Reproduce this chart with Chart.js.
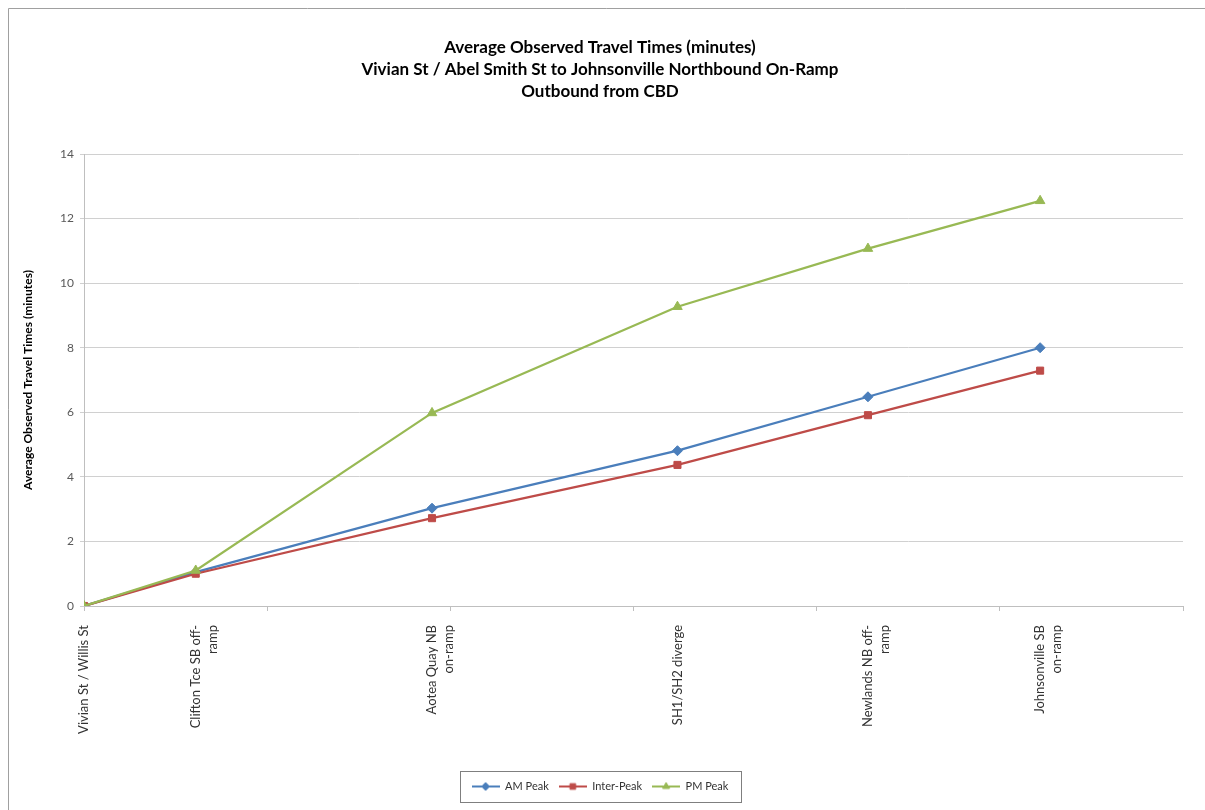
<!DOCTYPE html>
<html>
<head>
<meta charset="utf-8">
<title>Average Observed Travel Times</title>
<script src="https://cdn.jsdelivr.net/npm/chart.js@4.4.1/dist/chart.umd.min.js"></script>
<style>
  html, body { margin: 0; padding: 0; background: #ffffff; }
  #wrap { position: relative; width: 1205px; height: 810px; }
</style>
</head>
<body>
<div id="wrap"><canvas id="chart"></canvas></div>
<script>
// Timing points along the route (tick labels, split into lines)
const stationLabels = [
  ['Vivian St / Willis St'],
  ['Clifton Tce SB off-', 'ramp'],
  ['Aotea Quay NB', 'on-ramp'],
  ['SH1/SH2 diverge'],
  ['Newlands NB off-', 'ramp'],
  ['Johnsonville SB', 'on-ramp']
];
// Distance of each timing point along the route
const stationDistance = [0, 0.61, 1.9, 3.24, 4.28, 5.22];

// Cumulative average travel time (minutes) per period
const amPeak    = [0, 1.05, 3.03, 4.81, 6.48, 8.0];
const interPeak = [0, 1.0, 2.72, 4.37, 5.91, 7.29];
const pmPeak    = [0, 1.1, 5.98, 9.27, 11.07, 12.55];

const seriesNames = ['AM Peak', 'Inter-Peak', 'PM Peak'];
const yTickMax = 14;
const yTickStep = 2;
const xAxisMax = 6;

const colors = { am: '#4a7ebb', inter: '#be4b48', pm: '#98b954' };
const FONT = 'Lato, "Open Sans", "Liberation Sans", sans-serif';

function toPoints(values) {
  return values.map((v, i) => ({ x: stationDistance[i], y: v }));
}

// Legend swatch: short line with the series marker in the middle
function legendIcon(color, style, radius) {
  const c = document.createElement('canvas');
  c.width = 28; c.height = 12;
  const g = c.getContext('2d');
  g.strokeStyle = color;
  g.lineWidth = 2;
  g.beginPath(); g.moveTo(0, 6); g.lineTo(28, 6); g.stroke();
  g.fillStyle = color;
  g.lineWidth = 1;
  Chart.helpers.drawPoint(g, { pointStyle: style, radius: radius, borderWidth: 1, rotation: 0 }, 14, 6);
  return c;
}

const frame = {
  id: 'frame',
  beforeDraw(chart) {
    const ctx = chart.ctx;
    ctx.save();
    ctx.fillStyle = '#ffffff';
    ctx.fillRect(0, 0, chart.width, chart.height);
    ctx.restore();
  },
  afterDraw(chart) {
    const ctx = chart.ctx;
    ctx.save();
    // outer chart border (top and left edges)
    ctx.strokeStyle = '#a0a0a0';
    ctx.lineWidth = 1;
    ctx.beginPath();
    ctx.moveTo(8.5, chart.height);
    ctx.lineTo(8.5, 8.5);
    ctx.lineTo(chart.width, 8.5);
    ctx.stroke();
    // legend border
    const lg = chart.legend;
    if (lg && lg.legendHitBoxes && lg.legendHitBoxes.length) {
      const boxes = lg.legendHitBoxes;
      const left = Math.min(...boxes.map(b => b.left)) - 12;
      const right = Math.max(...boxes.map(b => b.left + b.width)) + 12;
      const top = lg.top;
      const bottom = lg.bottom;
      ctx.strokeStyle = '#7f7f7f';
      ctx.strokeRect(Math.round(left) + 0.5, Math.round(top) + 0.5, Math.round(right - left), Math.round(bottom - top));
    }
    ctx.restore();
  }
};

const datasets = [
  {
    label: seriesNames[0], data: toPoints(amPeak), order: 3,
    borderColor: colors.am, backgroundColor: colors.am, borderWidth: 2.25,
    pointStyle: 'rectRot', pointRadius: 5, pointBorderWidth: 1,
    legendIcon: legendIcon(colors.am, 'rectRot', 4)
  },
  {
    label: seriesNames[1], data: toPoints(interPeak), order: 2,
    borderColor: colors.inter, backgroundColor: colors.inter, borderWidth: 2.25,
    pointStyle: 'rect', pointRadius: 5, pointBorderWidth: 1,
    legendIcon: legendIcon(colors.inter, 'rect', 4)
  },
  {
    label: seriesNames[2], data: toPoints(pmPeak), order: 1,
    borderColor: colors.pm, backgroundColor: colors.pm, borderWidth: 2.25,
    pointStyle: 'triangle', pointRadius: 5.5, pointBorderWidth: 1,
    legendIcon: legendIcon(colors.pm, 'triangle', 4)
  }
];

new Chart(document.getElementById('chart'), {
  type: 'line',
  data: { datasets },
  plugins: [frame],
  options: {
    responsive: true,
    maintainAspectRatio: false,
    animation: false,
    layout: { padding: { top: 37, left: 17, right: 22, bottom: 8 } },
    elements: { line: { tension: 0 } },
    plugins: {
      title: {
        display: true,
        text: [
          'Average Observed Travel Times (minutes)',
          'Vivian St / Abel Smith St to Johnsonville Northbound On-Ramp',
          'Outbound from CBD'
        ],
        color: '#000000',
        font: { family: FONT, size: 17, weight: 'bold', lineHeight: '22px' },
        padding: { top: 0, bottom: 51 }
      },
      legend: {
        position: 'bottom',
        labels: {
          usePointStyle: true,
          pointStyleWidth: 28,
          padding: 10,
          color: '#333333',
          font: { family: FONT, size: 11 },
          sort: (a, b) => a.datasetIndex - b.datasetIndex,
          generateLabels(chart) {
            return chart.data.datasets.map((ds, i) => ({
              text: ds.label,
              datasetIndex: i,
              pointStyle: ds.legendIcon,
              fillStyle: ds.backgroundColor,
              strokeStyle: ds.borderColor,
              lineWidth: 0,
              hidden: !chart.isDatasetVisible(i),
              fontColor: '#333333'
            }));
          }
        }
      },
      tooltip: { enabled: false }
    },
    scales: {
      x: {
        type: 'linear',
        position: 'bottom',
        min: 0,
        max: xAxisMax,
        ticks: { display: false, stepSize: 1 },
        grid: { drawOnChartArea: false, tickLength: 5, color: '#bfbfbf' },
        border: { display: true, color: '#bfbfbf' }
      },
      xl: {
        type: 'linear',
        position: 'bottom',
        min: 0,
        max: xAxisMax,
        grid: { display: false },
        border: { display: false },
        afterBuildTicks(scale) {
          scale.ticks = stationDistance.map(v => ({ value: v }));
        },
        afterFit(scale) { scale.height = 160; },
        ticks: {
          autoSkip: false,
          minRotation: 90,
          maxRotation: 90,
          padding: 6,
          color: '#333333',
          font: { family: FONT, size: 13, lineHeight: '17px' },
          callback: (value, index) => stationLabels[index]
        }
      },
      y: {
        min: 0,
        max: yTickMax,
        ticks: {
          stepSize: yTickStep,
          padding: 6,
          color: '#595959',
          font: { family: FONT, size: 12 }
        },
        grid: { color: '#d0d0d0', tickLength: 4 },
        border: { display: true, color: '#bfbfbf' },
        afterFit(scale) { scale.width = 67; },
        title: {
          display: true,
          text: 'Average Observed Travel Times (minutes)',
          color: '#000000',
          font: { family: FONT, size: 12, weight: 'bold' },
          padding: { top: 4, bottom: 0 }
        }
      }
    }
  }
});
</script>
</body>
</html>
